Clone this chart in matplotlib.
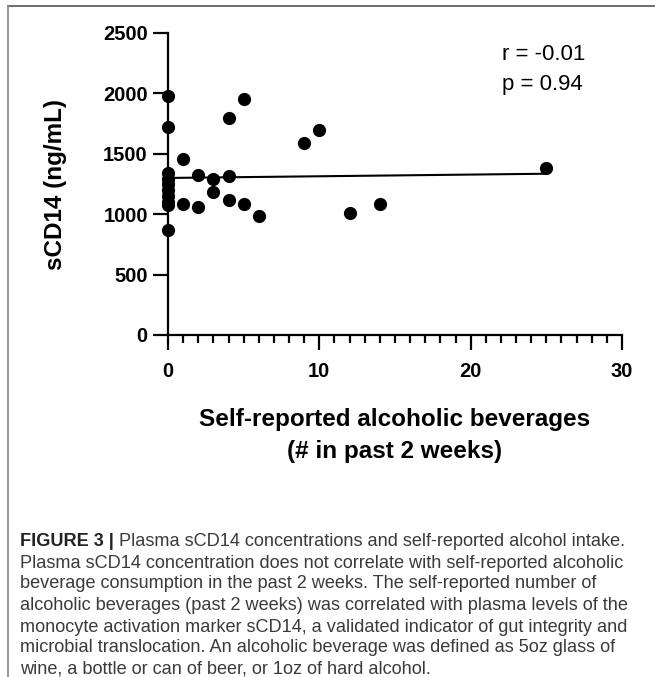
import matplotlib.pyplot as plt
from matplotlib import font_manager
from matplotlib.lines import Line2D
from matplotlib.ticker import MultipleLocator

# data
drinks = [0, 0, 0, 0, 0, 0, 0, 0, 0, 0,
          1, 1, 2, 2, 3, 3, 4, 4, 4, 5, 5, 6,
          9, 10, 12, 14, 25]
scd14 = [1975, 1718, 1340, 1295, 1250, 1200, 1150, 1105, 1075, 870,
         1460, 1083, 1326, 1063, 1292, 1182, 1320, 1118, 1800, 1955, 1083, 988,
         1588, 1698, 1013, 1083, 1381]
fit_x = [0, 25]
fit_y = [1300, 1335]
r_text = "r = -0.01"
p_text = "p = 0.94"

caption_bold = "FIGURE 3 |"
caption_lines = [
    " Plasma sCD14 concentrations and self-reported alcohol intake.",
    "Plasma sCD14 concentration does not correlate with self-reported alcoholic",
    "beverage consumption in the past 2 weeks. The self-reported number of",
    "alcoholic beverages (past 2 weeks) was correlated with plasma levels of the",
    "monocyte activation marker sCD14, a validated indicator of gut integrity and",
    "microbial translocation. An alcoholic beverage was defined as 5oz glass of",
    "wine, a bottle or can of beer, or 1oz of hard alcohol.",
]


def has_font(name):
    try:
        font_manager.findfont(name, fallback_to_default=False)
        return True
    except Exception:
        return False


cap_font = "Liberation Sans Narrow" if has_font("Liberation Sans Narrow") else "Liberation Sans"
plt.rcParams['font.family'] = ['Liberation Sans', 'DejaVu Sans']

W, H = 655, 677
fig = plt.figure(figsize=(W / 100, H / 100), dpi=100)
ax = fig.add_axes([168 / W, 1 - 335 / H, 454 / W, 302 / H])

ax.scatter(drinks, scd14, s=72, color='black', zorder=3, clip_on=False)
ax.plot(fit_x, fit_y, color='black', lw=1.5, zorder=2)

ax.set_xlim(0, 30)
ax.set_ylim(0, 2500)
ax.set_xticks([0, 10, 20, 30])
ax.set_yticks([0, 500, 1000, 1500, 2000, 2500])
ax.xaxis.set_minor_locator(MultipleLocator(1))
for s in ['top', 'right']:
    ax.spines[s].set_visible(False)
for s in ['left', 'bottom']:
    ax.spines[s].set_linewidth(1.6)
ax.tick_params(which='major', length=10.5, width=1.6, labelsize=14.5, pad=4)
ax.tick_params(axis='x', which='major', pad=9)
ax.tick_params(which='minor', length=5.5, width=1.6)
for lab in ax.get_xticklabels() + ax.get_yticklabels():
    lab.set_fontweight('bold')

ax.set_ylabel("sCD14 (ng/mL)", fontsize=17.5, fontweight='bold', labelpad=26)
ax.set_xlabel("Self-reported alcoholic beverages\n(# in past 2 weeks)",
              fontsize=17.5, fontweight='bold', labelpad=19.5, linespacing=1.5)

ax.text(0.736, 0.928, r_text, transform=ax.transAxes, fontsize=16, va='center', ha='left')
ax.text(0.736, 0.830, p_text, transform=ax.transAxes, fontsize=16, va='center', ha='left')

# caption
renderer = fig.canvas.get_renderer()
x0 = 20 / W
ys = [542, 563, 584, 606, 627, 648, 669]
cap_size = 12.5
probe = fig.text(0, 0, caption_lines[4], family=[cap_font, 'DejaVu Sans'], fontsize=cap_size)
cap_size *= 612 / probe.get_window_extent(renderer).width
probe.remove()

tb = fig.text(x0, 1 - ys[0] / H, caption_bold, family=[cap_font, 'DejaVu Sans'],
              fontsize=cap_size, fontweight='bold', color='#222222', va='center')
bb = tb.get_window_extent(renderer)
fig.text(bb.x1 / W, 1 - ys[0] / H, caption_lines[0], family=[cap_font, 'DejaVu Sans'],
         fontsize=cap_size, color='#3a3a3a', va='center')
for y, line in zip(ys[1:], caption_lines[1:]):
    fig.text(x0, 1 - y / H, line, family=[cap_font, 'DejaVu Sans'],
             fontsize=cap_size, color='#3a3a3a', va='center')

# frame lines around the figure panel
fig.add_artist(Line2D([7.5 / W, 1], [1 - 6 / H, 1 - 6 / H], transform=fig.transFigure,
                      color='#555555', lw=1.2))
fig.add_artist(Line2D([7.5 / W, 7.5 / W], [0, 1 - 6 / H], transform=fig.transFigure,
                      color='#888888', lw=1.2))

fig.savefig("out.png", dpi=100)
